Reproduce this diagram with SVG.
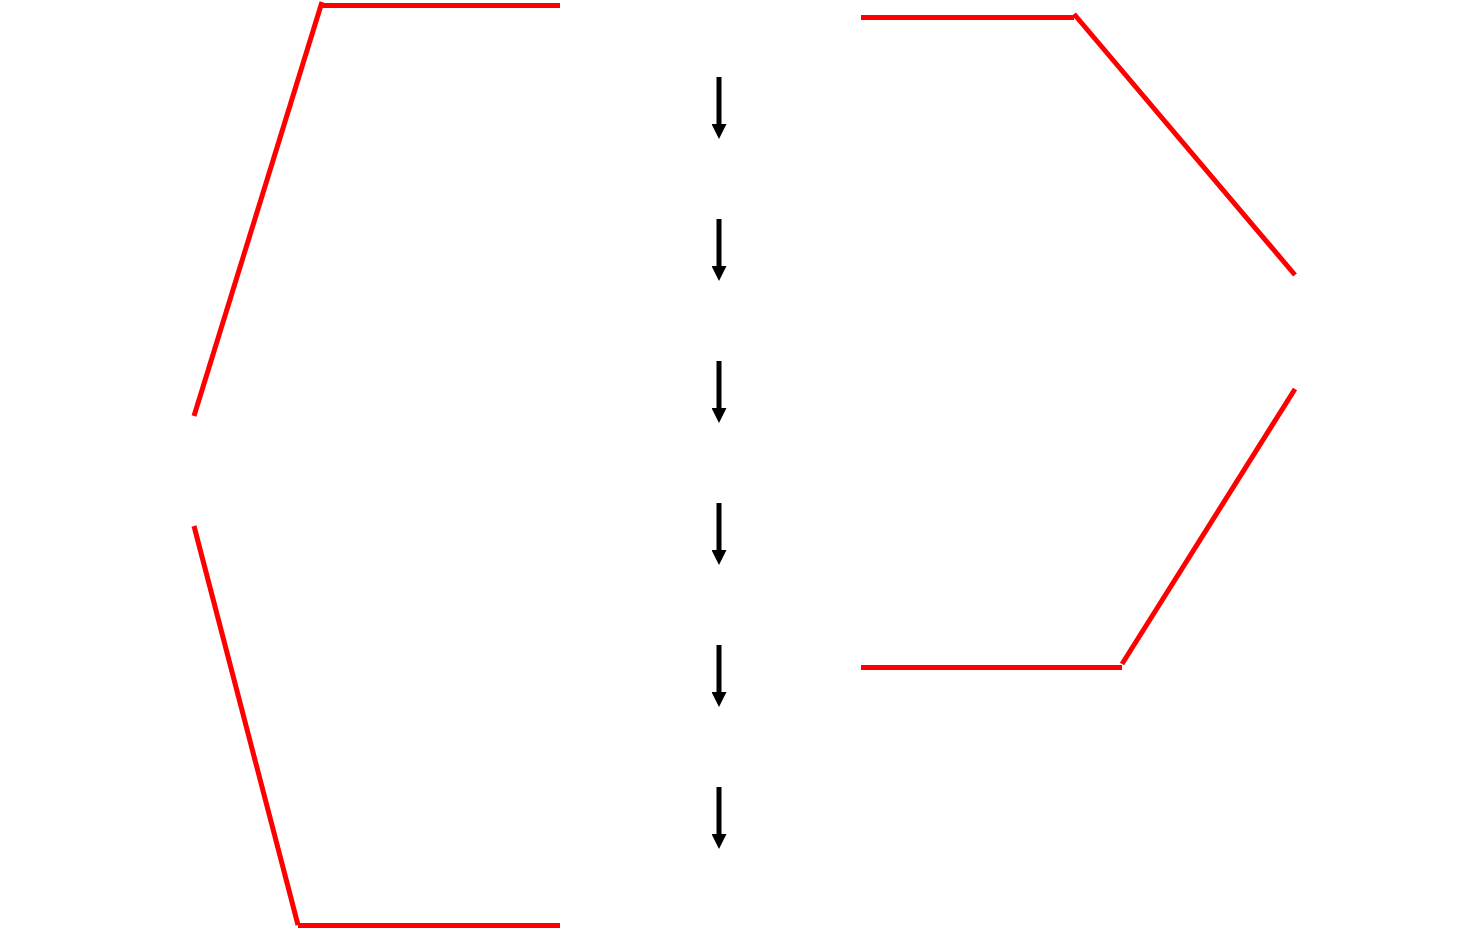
<svg xmlns="http://www.w3.org/2000/svg" width="1458" height="944" viewBox="0 0 1458 944">
<style>
.red{stroke:#ff0000;stroke-width:5;fill:none;}
.arr{stroke:#000;stroke-width:5;fill:none;}
</style>
<defs>
<marker id="ah" markerUnits="userSpaceOnUse" markerWidth="15" markerHeight="15" refX="0" refY="7.5" orient="auto">
<path d="M0,0 L15,7.5 L0,15 z" fill="#000"/>
</marker>
</defs>
<rect width="1458" height="944" fill="#fff"/>
<g id="left-bracket">
<line class="red" x1="194" y1="416" x2="322" y2="2"/>
<line class="red" x1="323" y1="5.5" x2="560" y2="5.5"/>
<line class="red" x1="194" y1="526" x2="298" y2="925"/>
<line class="red" x1="298" y1="925.5" x2="560" y2="925.5"/>
</g>
<g id="right-bracket">
<line class="red" x1="861" y1="17.5" x2="1074" y2="17.5"/>
<line class="red" x1="1074" y1="14" x2="1295" y2="275"/>
<line class="red" x1="1295" y1="389" x2="1122" y2="664"/>
<line class="red" x1="861" y1="667.5" x2="1122" y2="667.5"/>
</g>
<g id="connectors">
<line class="arr" x1="719" y1="77" x2="719" y2="124" marker-end="url(#ah)"/>
<line class="arr" x1="719" y1="219" x2="719" y2="266" marker-end="url(#ah)"/>
<line class="arr" x1="719" y1="361" x2="719" y2="408" marker-end="url(#ah)"/>
<line class="arr" x1="719" y1="503" x2="719" y2="550" marker-end="url(#ah)"/>
<line class="arr" x1="719" y1="645" x2="719" y2="692" marker-end="url(#ah)"/>
<line class="arr" x1="719" y1="787" x2="719" y2="834" marker-end="url(#ah)"/>
</g>
</svg>
